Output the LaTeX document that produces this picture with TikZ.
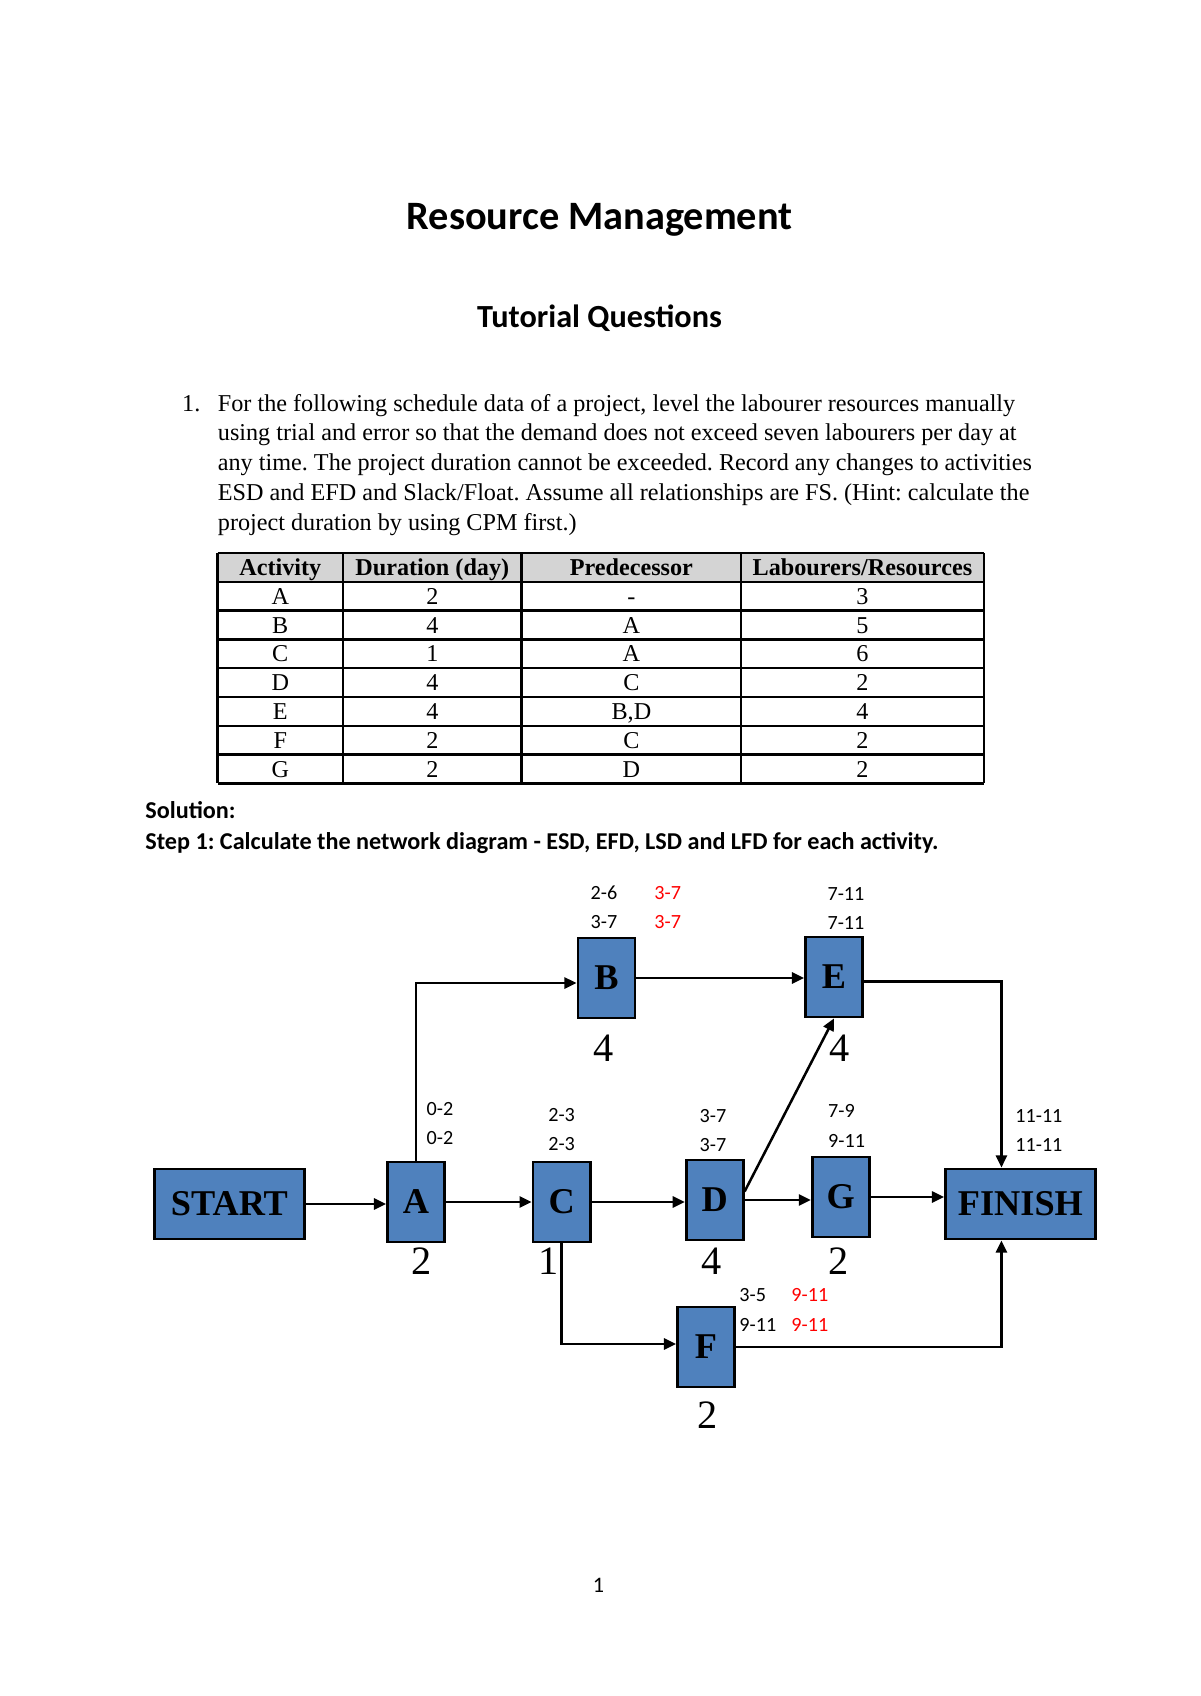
\documentclass[tikz,border=0pt]{standalone}
\usepackage{fontspec}
\setmainfont{Liberation Serif}
\newfontfamily\calibri{Carlito}
\usepackage{tikz}
\usetikzlibrary{arrows.meta,positioning,calc}
\definecolor{boxBlue}{RGB}{79,129,189}
\definecolor{slackRed}{RGB}{255,0,0}
\definecolor{headGray}{RGB}{212,212,212}
\frenchspacing

\begin{document}
\begin{tikzpicture}[
        x=0.4961pt, y=-0.4961pt,
        activity/.style={rectangle, draw=black, fill=boxBlue, line width=1.4pt, minimum width=28.3pt, minimum height=39.7pt, inner sep=0pt, font=\fontsize{18}{20}\selectfont\bfseries},
        terminal/.style={activity, minimum width=74.4pt, minimum height=34.8pt},
        dayspan/.style={font=\calibri\fontsize{10}{12}\selectfont, inner sep=0pt},
        slack/.style={dayspan, text=slackRed},
        duration/.style={font=\fontsize{20}{22}\selectfont, inner sep=0pt},
        link/.style={-{Triangle[length=6pt,width=5.5pt]}, line width=1.25pt},
        tablerule/.style={line width=1.1pt},
        cell/.style={font=\fontsize{12}{14}\selectfont, inner sep=0pt, anchor=base},
        headcell/.style={cell, font=\fontsize{12}{14}\selectfont\bfseries},
        bodyline/.style={font=\fontsize{12}{14}\selectfont, inner sep=0pt, anchor=base west},
        heading/.style={inner sep=0pt, anchor=base},
    ]
        \useasboundingbox (0,0) rectangle (1200,1696);
        \fill[white] (0,0) rectangle (1200,1696);

        % Headings
        \node[heading, font=\calibri\bfseries\fontsize{20}{24}\selectfont] (title) at (599.5,229.4) {Resource Management};
        \node[heading, font=\calibri\bfseries\fontsize{16}{19}\selectfont] (subtitle) at (599.5,327.4) {Tutorial Questions};

        % Question text
        \node[bodyline] (qnum) at (181.8,411) {1.};
        \foreach \txt [count=\i] in {
            {For the following schedule data of a project, level the labourer resources manually},
            {using trial and error so that the demand does not exceed seven labourers per day at},
            {any time. The project duration cannot be exceeded. Record any changes to activities},
            {ESD and EFD and Slack/Float. Assume all relationships are FS. (Hint: calculate the},
            {project duration by using CPM first.)}} {
            \node[bodyline] (qline\i) at ({217.5},{411+29.76*(\i-1)}) {\txt};
        }

        % Schedule table
        \fill[headGray] (217.5,553) rectangle (983.6,581.8);
        \foreach \x in {217.5,343,521.6,741.2,983.6} {
            \draw[tablerule] (\x,553) -- (\x,783.4);
        }
        \foreach \r in {0,...,8} {
            \draw[tablerule] ({217.5},{553+28.8*\r}) -- ({983.6},{553+28.8*\r});
        }
        \node[headcell] (hact) at (280.3,575.4) {Activity};
        \node[headcell] (hdur) at (432.3,575.4) {Duration (day)};
        \node[headcell] (hpre) at (631.4,575.4) {Predecessor};
        \node[headcell] (hlab) at (862.4,575.4) {Labourers/Resources};
        \foreach \act/\dur/\pre/\lab [count=\r] in {A/2/-/3, B/4/A/5, C/1/A/6, D/4/C/2, E/4/{B,D}/4, F/2/C/2, G/2/D/2} {
            \node[cell] (act\r) at ({280.3},{575.4+28.8*\r}) {\act};
            \node[cell] (dur\r) at ({432.3},{575.4+28.8*\r}) {\dur};
            \node[cell] (pre\r) at ({631.4},{575.4+28.8*\r}) {\pre};
            \node[cell] (lab\r) at ({862.4},{575.4+28.8*\r}) {\lab};
        }

        % Solution headings
        \node[heading, anchor=base west, font=\calibri\bfseries\fontsize{12}{14}\selectfont] (solution) at (145,818.7) {Solution:};
        \node[heading, anchor=base west, font=\calibri\bfseries\fontsize{12}{14}\selectfont] (stepone) at (145,849) {Step 1: Calculate the network diagram - ESD, EFD, LSD and LFD for each activity.};

        % Network boxes
        \node[terminal] (start) at (229.4,1204) {START};
        \node[activity] (A) at (416,1202) {A};
        \node[activity] (C) at (561.6,1202) {C};
        \node[activity] (D) at (714.7,1200) {D};
        \node[activity] (G) at (840.8,1197) {G};
        \node[terminal] (finish) at (1020.4,1204) {FINISH};
        \node[activity] (B) at (606.5,978) {B};
        \node[activity] (E) at (834,977) {E};
        \node[activity] (F) at (706,1347) {F};

        % Arrows
        \foreach \a/\b in {start/A, A/C, C/D, D/G, G/finish, B/E} {
            \draw[link] (\a.east) -- (\a.east -| \b.west);
        }
        \draw[link] (A.north) |- ([yshift=-2.5pt]B.west);
        \draw[link] (D.16) -- (E.south);
        \draw[link] ([yshift=-2.2pt]E.east) -| ([xshift=-9.4pt]finish.north);
        \draw[link] (C.south) |- ([yshift=1.5pt]F.west);
        \draw[link] (F.east) -| ([xshift=-9.4pt]finish.south);

        % Start and finish days
        \node[dayspan] (Aes) at (440,1109) {0-2};
        \node[dayspan] (Als) at (440,1138) {0-2};
        \node[dayspan] (Bes) at (604,892.7) {2-6};
        \node[dayspan] (Bls) at (604,922) {3-7};
        \node[slack] (Bnew) at (667.7,892.7) {3-7};
        \node[slack] (Bnewl) at (667.7,922) {3-7};
        \node[dayspan] (Ces) at (561.6,1114.6) {2-3};
        \node[dayspan] (Cls) at (561.6,1143.8) {2-3};
        \node[dayspan] (Des) at (713,1115.7) {3-7};
        \node[dayspan] (Dls) at (713,1145) {3-7};
        \node[dayspan] (Ees) at (846,893.8) {7-11};
        \node[dayspan] (Els) at (846,923) {7-11};
        \node[dayspan, anchor=west] (Ges) at (827.8,1111) {7-9};
        \node[dayspan, anchor=west] (Gls) at (827.8,1140.5) {9-11};
        \node[dayspan, anchor=west] (Fes) at (739,1295) {3-5};
        \node[dayspan, anchor=west] (Fls) at (739,1324.5) {9-11};
        \node[slack, anchor=west] (Fnew) at (791,1295) {9-11};
        \node[slack, anchor=west] (Fnewl) at (791,1324.5) {9-11};
        \node[dayspan, anchor=west] (fines) at (1015,1115.7) {11-11};
        \node[dayspan, anchor=west] (finls) at (1015,1145) {11-11};

        % Durations
        \node[duration] (Adur) at (422,1261) {2};
        \node[duration] (Cdur) at (548.6,1261) {1};
        \node[duration] (Ddur) at (712,1261) {4};
        \node[duration] (Gdur) at (838.6,1261) {2};
        \node[duration] (Bdur) at (604,1048.6) {4};
        \node[duration] (Edur) at (839.7,1048.6) {4};
        \node[duration] (Fdur) at (707.7,1415.4) {2};

        % Page number
        \node[heading, font=\calibri\fontsize{11}{13}\selectfont] (pagenum) at (598.4,1592) {1};
    \end{tikzpicture}
\end{document}
